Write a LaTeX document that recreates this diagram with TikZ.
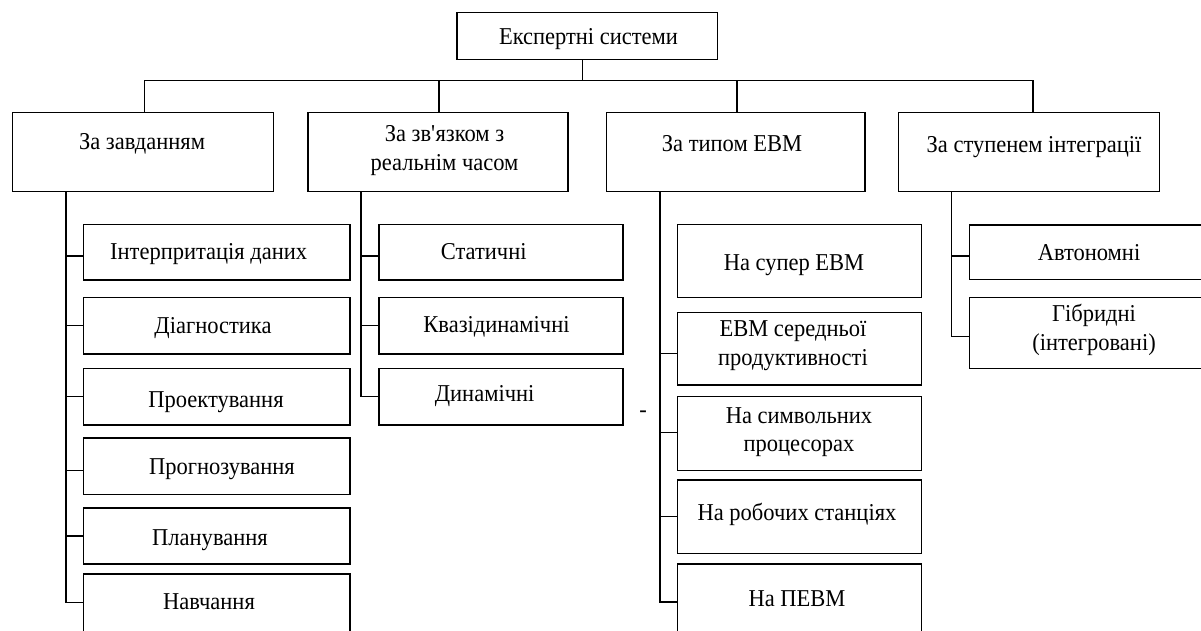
\documentclass[tikz,border=0pt]{standalone}
\usepackage{fontspec}
\setmainfont{Liberation Serif}[FakeStretch=0.93]
\begin{document}
\begin{tikzpicture}[x=1pt,y=-1pt,
  box/.style={draw=black,line width=1.4pt,inner sep=0pt,outer sep=0pt},
  lbl/.style={inner sep=0pt,outer sep=0pt,font=\fontsize{24.2}{28.5}\selectfont,anchor=base},
  lbl2/.style={inner sep=0pt,outer sep=0pt,font=\fontsize{24.2}{28.5}\selectfont,align=center},
  conn/.style={line width=1.4pt,draw=black}]
\useasboundingbox (0,0) rectangle (1201,631);
\clip (0,0) rectangle (1201,631);
% boxes
\node[box,minimum width=260.5pt,minimum height=46.6pt] (top) at (587.2,36) {};
\node[box,minimum width=261pt,minimum height=79.4pt] (b1) at (142.8,152) {};
\node[box,minimum width=260pt,minimum height=79.4pt] (b2) at (438,152) {};
\node[box,minimum width=258.5pt,minimum height=79.4pt] (b3) at (735.7,152) {};
\node[box,minimum width=261pt,minimum height=79.4pt] (b4) at (1029,152) {};
% column 1
\node[box,minimum width=266.7pt,minimum height=55.7pt] (c11) at (216.7,252.15) {};
\node[box,minimum width=266.7pt,minimum height=56.7pt] (c12) at (216.7,325.65) {};
\node[box,minimum width=266.7pt,minimum height=56.7pt] (c13) at (216.7,396.65) {};
\node[box,minimum width=266.7pt,minimum height=56.7pt] (c14) at (216.7,466.35) {};
\node[box,minimum width=266.7pt,minimum height=56pt] (c15) at (216.7,536) {};
\node[box,minimum width=266.7pt,minimum height=66pt] (c16) at (216.7,607) {};
% column 2
\node[box,minimum width=244.2pt,minimum height=55.7pt] (c21) at (500.9,252.15) {};
\node[box,minimum width=244.2pt,minimum height=56.7pt] (c22) at (500.9,325.65) {};
\node[box,minimum width=244.2pt,minimum height=56.7pt] (c23) at (500.9,396.65) {};
% column 3
\node[box,minimum width=244.2pt,minimum height=73pt] (c31) at (799.4,260.8) {};
\node[box,minimum width=244.2pt,minimum height=72.7pt] (c32) at (799.4,348.65) {};
\node[box,minimum width=244.2pt,minimum height=74pt] (c33) at (799.4,433.7) {};
\node[box,minimum width=244.2pt,minimum height=73.3pt] (c34) at (799.4,516.65) {};
\node[box,minimum width=244.2pt,minimum height=76pt] (c35) at (799.4,602) {};
% column 4
\node[box,minimum width=240.3pt,minimum height=54.3pt] (c41) at (1089.85,252.15) {};
\node[box,minimum width=240.3pt,minimum height=71pt] (c42) at (1089.85,332.8) {};
% labels
\node[lbl] (ttop) at (588.5,45) {Експертні системи};
\node[lbl] (tb1) at (142,150) {За завданням};
\node[lbl2] (tb2) at (444.5,150.5) {За зв\textquotesingle язком з\\реальнім часом};
\node[lbl] (tb3) at (732,151.7) {За типом ЕВМ};
\node[lbl] (tb4) at (1034,152.5) {За ступенем інтеграції};
\node[lbl] (t11) at (208.7,259) {Інтерпритація даних};
\node[lbl] (t12) at (213,333.3) {Діагностика};
\node[lbl] (t13) at (216,407.3) {Проектування};
\node[lbl] (t14) at (222,474) {Прогнозування};
\node[lbl] (t15) at (210,545.7) {Планування};
\node[lbl] (t16) at (209,609.3) {Навчання};
\node[lbl] (t21) at (483.7,259) {Статичні};
\node[lbl] (t22) at (496.5,332.7) {Квазідинамічні};
\node[lbl] (t23) at (484.6,401.7) {Динамічні};
\node[lbl] (t31) at (794,270) {На супер ЕВМ};
\node[lbl2] (t32) at (793,345.5) {ЕВМ середньої\\продуктивності};
\node[lbl2] (t33) at (799,432) {На символьних\\процесорах};
\node[lbl] (t34) at (797,520.7) {На робочих станціях};
\node[lbl] (t35) at (797,606) {На ПЕВМ};
\node[lbl] (t41) at (1089,260) {Автономні};
\node[lbl2] (t42) at (1094,330) {Гібридні\\(інтегровані)};
\node[lbl] (dash) at (643,417.5) {-};
% top-level connectors
\coordinate (bus) at ([xshift=-4.5pt,yshift=-21.4pt]top.south);
\draw[conn] (top.south -| bus) -- (bus);
\draw[conn] (bus) -| ([xshift=1.9pt]b1.north);
\draw[conn] (bus) -| ([xshift=1pt]b2.north);
\draw[conn] (bus) -| ([xshift=1.3pt]b3.north);
\draw[conn] (bus) -| ([xshift=4pt]b4.north);
% trunks
\coordinate (k1) at ([xshift=53.7pt]b1.south west);
\coordinate (k2) at ([xshift=53pt]b2.south west);
\coordinate (k3) at ([xshift=53.5pt]b3.south west);
\coordinate (k4) at ([xshift=53.2pt]b4.south west);
\draw[conn] (k1) |- ([yshift=-3.85pt]c11.west);
\draw[conn] (k1) |- (c12.west);
\draw[conn] (k1) |- (c13.west);
\draw[conn] (k1) |- ([yshift=-4.35pt]c14.west);
\draw[conn] (k1) |- (c15.west);
\draw[conn] (k1) |- ([yshift=4.7pt]c16.west);
\draw[conn] (k2) |- ([yshift=-3.85pt]c21.west);
\draw[conn] (k2) |- (c22.west);
\draw[conn] (k2) |- (c23.west);
\draw[conn] (k3) |- ([yshift=-4.65pt]c32.west);
\draw[conn] (k3) |- ([yshift=1.4pt]c33.west);
\draw[conn] (k3) |- (c34.west);
\draw[conn] (k3) |- (c35.west);
\draw[conn] (k4) |- ([yshift=-3.85pt]c41.west);
\draw[conn] (k4) |- ([yshift=-3.9pt]c42.west);
\end{tikzpicture}
\end{document}
